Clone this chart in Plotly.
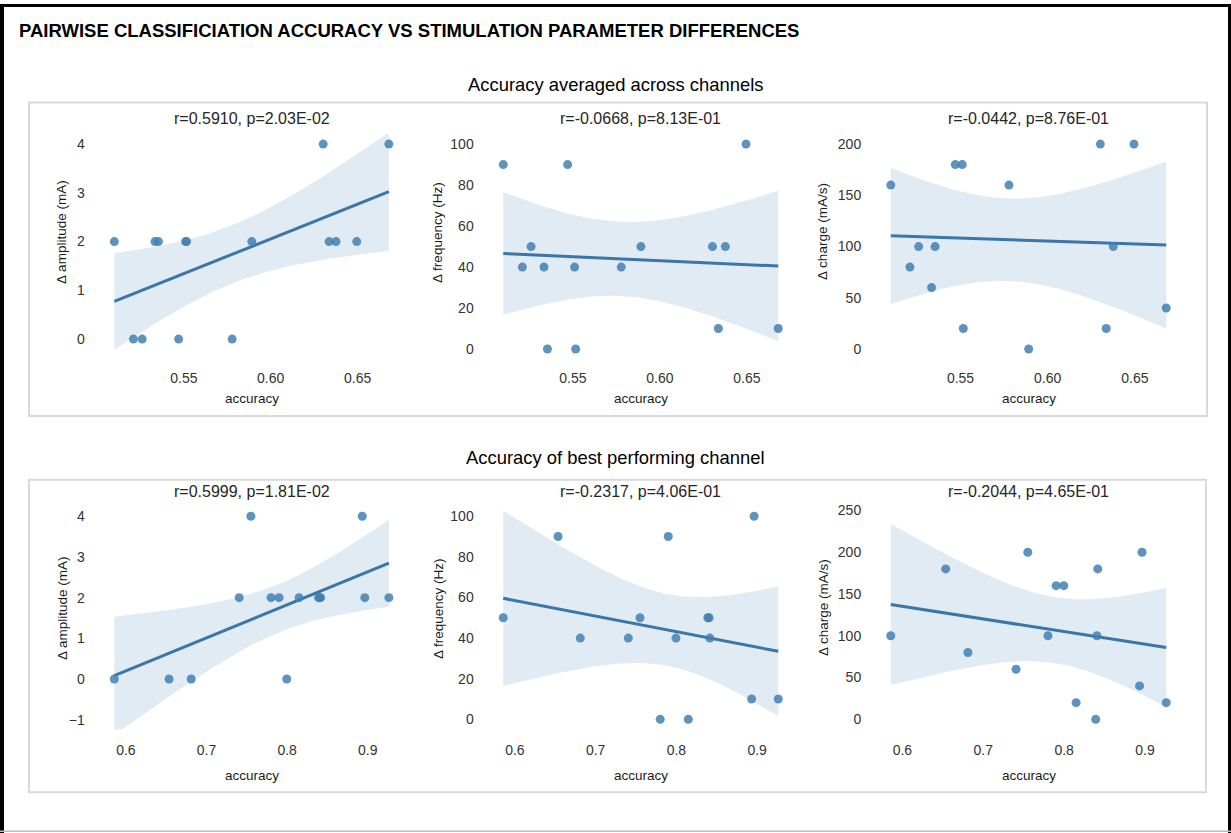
import numpy as np
import plotly.graph_objects as go

W, H = 1231, 833

# ---------------- data ----------------
main_title = "PAIRWISE CLASSIFICIATION ACCURACY VS STIMULATION PARAMETER DIFFERENCES"
group_titles = ["Accuracy averaged across channels", "Accuracy of best performing channel"]
y_labels = ["Δ amplitude (mA)", "Δ frequency (Hz)", "Δ charge (mA/s)"]
x_label = "accuracy"
stat_titles = [
    ["r=0.5910, p=2.03E-02", "r=-0.0668, p=8.13E-01", "r=-0.0442, p=8.76E-01"],
    ["r=0.5999, p=1.81E-02", "r=-0.2317, p=4.06E-01", "r=-0.2044, p=4.65E-01"],
]

avg_accuracy = [0.510, 0.521, 0.526, 0.5334, 0.5354, 0.547, 0.551, 0.5516,
                0.5778, 0.5891, 0.6302, 0.6336, 0.6376, 0.6495, 0.668]
avg_amplitude = [2, 0, 0, 2, 2, 0, 2, 2, 0, 2, 4, 2, 2, 2, 4]
avg_frequency = [90, 40, 50, 40, 0, 90, 40, 0, 40, 50, 50, 10, 50, 100, 10]
avg_charge = [160, 80, 100, 60, 100, 180, 180, 20, 160, 0, 200, 20, 100, 200, 40]

best_accuracy = [0.5856, 0.6535, 0.681, 0.7405, 0.755, 0.780, 0.790, 0.7995,
                 0.8148, 0.839, 0.8405, 0.8415, 0.8932, 0.8963, 0.9262]
best_amplitude = [0, 0, 0, 2, 4, 2, 2, 0, 2, 2, 2, 2, 4, 2, 2]
best_frequency = [50, 90, 40, 40, 50, 0, 90, 40, 0, 50, 50, 40, 10, 100, 10]
best_charge = [100, 180, 80, 60, 200, 100, 160, 160, 20, 0, 100, 180, 40, 200, 20]

x_ticks = [[0.55, 0.60, 0.65], [0.6, 0.7, 0.8, 0.9]]
x_ticktext = [["0.55", "0.60", "0.65"], ["0.6", "0.7", "0.8", "0.9"]]
y_ticks = [
    [[0, 1, 2, 3, 4], [0, 20, 40, 60, 80, 100], [0, 50, 100, 150, 200]],
    [[-1, 0, 1, 2, 3, 4], [0, 20, 40, 60, 80, 100], [0, 50, 100, 150, 200, 250]],
]

# ---------------- layout geometry (pixels) ----------------
cols_px = [(100.6, 402.6), (489.5, 792.0), (877.0, 1180.0)]
rows_px = [(130.5, 357.0), (504.5, 729.0)]
x_ranges = [[0.5021, 0.6759], [0.5686, 0.9432]]
y_ranges = [
    [[-0.415, 4.21], [-5, 105], [-10, 210]],
    [[-1.24, 4.25], [-5, 105], [-12.15, 255.2]],
]
x_ticklen = [6, 8]
ylab_x = [62, 438, 823]
ylab_y = [229, 607]
title_y = [115, 490]
xlab_y = [396, 775]
group_title_y = [80.5, 455.5]
main_title_y = 27
boxes_px = [(29, 99, 1207, 414), (29, 478, 1206, 792)]

FONT = "Liberation Sans, Arial, Helvetica, sans-serif"
PT_COLOR = "rgba(66,128,178,0.85)"
LINE_COLOR = "#3a76a7"
BAND_COLOR = "rgba(70,130,180,0.16)"
T_CRIT = 2.160  # 95% two-sided, df = 13

def px_x(v):
    return v / W

def px_y(v):
    return 1 - v / H

series = [
    [(avg_accuracy, avg_amplitude), (avg_accuracy, avg_frequency), (avg_accuracy, avg_charge)],
    [(best_accuracy, best_amplitude), (best_accuracy, best_frequency), (best_accuracy, best_charge)],
]

fig = go.Figure()
layout = {}
annotations = []

for r in range(2):
    for c in range(3):
        n = r * 3 + c + 1
        xa = "x" if n == 1 else f"x{n}"
        ya = "y" if n == 1 else f"y{n}"
        xs, ys = series[r][c]
        x = np.array(xs, float)
        y = np.array(ys, float)
        slope, intercept = np.polyfit(x, y, 1)
        grid = np.linspace(x.min(), x.max(), 100)
        fit = intercept + slope * grid
        resid = y - (intercept + slope * x)
        s = np.sqrt(np.sum(resid ** 2) / (len(x) - 2))
        sxx = np.sum((x - x.mean()) ** 2)
        half = T_CRIT * s * np.sqrt(1 / len(x) + (grid - x.mean()) ** 2 / sxx)

        fig.add_trace(go.Scatter(x=grid, y=fit + half, mode="lines", line=dict(width=0),
                                 xaxis=xa, yaxis=ya, hoverinfo="skip"))
        fig.add_trace(go.Scatter(x=grid, y=fit - half, mode="lines", line=dict(width=0),
                                 fill="tonexty", fillcolor=BAND_COLOR,
                                 xaxis=xa, yaxis=ya, hoverinfo="skip"))
        fig.add_trace(go.Scatter(x=grid, y=fit, mode="lines",
                                 line=dict(color=LINE_COLOR, width=3),
                                 xaxis=xa, yaxis=ya))
        fig.add_trace(go.Scatter(x=x, y=y, mode="markers",
                                 marker=dict(color=PT_COLOR, size=9, line=dict(width=0)),
                                 xaxis=xa, yaxis=ya))

        x0, x1 = cols_px[c]
        y0, y1 = rows_px[r]
        axis_common = dict(showgrid=False, zeroline=False, showline=False,
                           ticks="outside", tickcolor="rgba(0,0,0,0)",
                           tickfont=dict(family=FONT, size=14, color="#333333"))
        layout["xaxis" if n == 1 else f"xaxis{n}"] = dict(
            domain=[px_x(x0), px_x(x1)], anchor=ya, range=x_ranges[r],
            tickmode="array", tickvals=x_ticks[r], ticktext=x_ticktext[r],
            ticklen=x_ticklen[r], **axis_common)
        layout["yaxis" if n == 1 else f"yaxis{n}"] = dict(
            domain=[px_y(y1), px_y(y0)], anchor=xa, range=y_ranges[r][c],
            tickmode="array", tickvals=y_ticks[r][c], ticklen=12, **axis_common)

        cx = (x0 + x1) / 2
        annotations.append(dict(text=stat_titles[r][c], x=px_x(cx), y=px_y(title_y[r]),
                                xref="paper", yref="paper", showarrow=False,
                                xanchor="center", yanchor="middle",
                                font=dict(family=FONT, size=16, color="#262626")))
        annotations.append(dict(text=x_label, x=px_x(cx), y=px_y(xlab_y[r]),
                                xref="paper", yref="paper", showarrow=False,
                                xanchor="center", yanchor="middle",
                                font=dict(family=FONT, size=13.5, color="#1a1a1a")))
        annotations.append(dict(text=y_labels[c], x=px_x(ylab_x[c]), y=px_y(ylab_y[r]),
                                xref="paper", yref="paper", showarrow=False, textangle=-90,
                                xanchor="center", yanchor="middle",
                                font=dict(family=FONT, size=13.5, color="#1a1a1a")))

annotations.append(dict(text="<b>" + main_title + "</b>", x=px_x(17), y=px_y(main_title_y),
                        xref="paper", yref="paper", showarrow=False,
                        xanchor="left", yanchor="middle",
                        font=dict(family=FONT, size=18.5, color="#000000")))
for r in range(2):
    annotations.append(dict(text=group_titles[r], x=px_x(615.5), y=px_y(group_title_y[r]),
                            xref="paper", yref="paper", showarrow=False,
                            xanchor="center", yanchor="middle",
                            font=dict(family=FONT, size=18.4, color="#000000")))

shapes = []
for (bx0, by0, bx1, by1) in boxes_px:
    shapes.append(dict(type="rect", xref="paper", yref="paper",
                       x0=px_x(bx0), x1=px_x(bx1), y0=px_y(by1), y1=px_y(by0),
                       line=dict(color="#d9d9d9", width=2), fillcolor="rgba(0,0,0,0)",
                       layer="below"))
# outer window frame
frame = [(0, 0, W, 3, "#000000"), (0, 0, 4, H, "#000000"),
         (W - 3, 0, W, H, "#000000"), (0, H - 2.5, W, H - 1, "#bdbdbd")]
for (fx0, fy0, fx1, fy1, col) in frame:
    shapes.append(dict(type="rect", xref="paper", yref="paper",
                       x0=px_x(fx0), x1=px_x(fx1), y0=px_y(fy1), y1=px_y(fy0),
                       line=dict(width=0), fillcolor=col, layer="above"))

fig.update_layout(
    width=W, height=H, autosize=False,
    margin=dict(l=0, r=0, t=0, b=0, pad=0),
    paper_bgcolor="white", plot_bgcolor="white",
    showlegend=False, hovermode=False,
    font=dict(family=FONT),
    annotations=annotations, shapes=shapes,
    **layout,
)

fig.write_html("out.html")
